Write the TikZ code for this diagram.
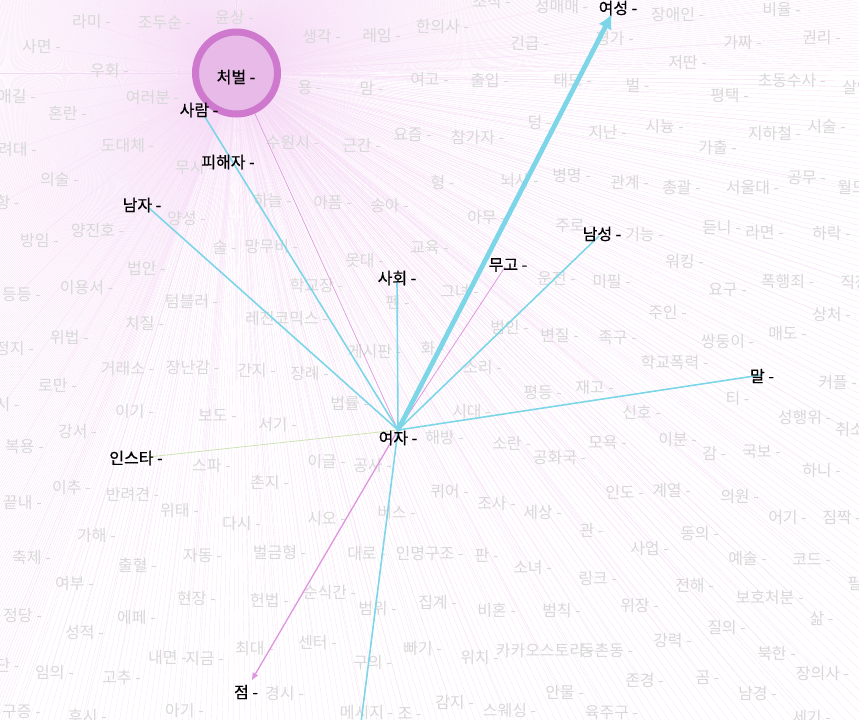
\documentclass[tikz,border=0pt]{standalone}
\usepackage{fontspec}
\setmainfont{Noto Sans CJK KR}
\newfontfamily\keyfont[FakeBold=0.6]{Noto Sans CJK KR}
\usetikzlibrary{arrows.meta,positioning}
\definecolor{hubfill}{RGB}{231,186,231}
\definecolor{hubring}{RGB}{206,121,206}
\definecolor{fanpink}{RGB}{245,216,245}
\definecolor{linkblue}{RGB}{124,214,232}
\definecolor{linkpink}{RGB}{222,150,222}
\definecolor{linkgreen}{RGB}{205,228,180}
\definecolor{wordgray}{RGB}{216,216,216}
\tikzset{>=latex,
  fanline/.style={fanpink,line width=0.14pt},
  bgword/.style={text=wordgray,font=\fontsize{12}{14}\selectfont,inner sep=0pt,xshift=3.4pt},
  keyword/.style={text=black,font=\keyfont\fontsize{12}{14}\selectfont,inner sep=0pt},
  bluelink/.style={linkblue,line width=1.2pt},
  pinklink/.style={linkpink,line width=0.6pt}}

\begin{document}
\begin{tikzpicture}[x=0.75pt,y=-0.75pt]
    \useasboundingbox (0,0) rectangle (859,719);
    \clip (0,0) rectangle (859,719);
    \coordinate (hub) at (236.5,73);
    \def\bgwords{87/22/라미, 160/23/조두순, 230/17/윤상, 37/47/사면, 105/70/우회, 12/97/애길,
      148/98/여러분, 63/113/혼란, 13/150/려대, 123/145/도대체, 190/168/무시, 55/180/의술,
      3/202/항, 182/218/양성, 93/230/양진호, 35/240/방임, 268/200/하늘, 317/37/생각,
      377/35/레임, 438/27/한의사, 487/2/조직, 557/7/성매매, 525/43/긴급, 305/88/용,
      367/88/맘, 425/80/여고, 485/80/출입, 568/80/태도, 535/122/덩, 288/143/수원시,
      357/145/근간, 408/135/요즘, 473/137/참가자, 438/182/형, 515/180/뇌사, 567/175/병명,
      328/202/아픔, 385/205/송아, 482/217/아무, 570/226/주로, 673/15/장애인, 777/10/비율,
      610/38/평가, 738/43/가짜, 817/38/권리, 683/63/저딴, 633/85/벌, 787/80/초동수사,
      857/87/살인, 725/95/평택, 603/132/지난, 660/127/시늉, 770/133/지하철, 822/127/시술,
      713/147/가출, 625/182/관계, 677/187/총괄, 748/188/서울대, 802/178/공무, 852/187/월드,
      640/234/기능, 717/227/듣니, 760/233/라면, 827/233/하락, 220/247/술, 267/247/망무비,
      142/268/법안, 17/295/등등, 82/288/이용서, 187/302/텀블러, 282/318/레진코믹스, 140/323/치질,
      65/337/위법, 10/348/정지, 123/368/거래소, 188/367/장난감, 252/370/간지, 305/373/장례,
      53/385/로만, 3/405/시, 130/412/이기, 213/415/보도, 273/425/서기, 73/432/강서,
      20/447/복용, 207/465/스파, 265/482/촌지, 425/248/교육, 360/260/못대, 312/285/학교장,
      393/302/펜, 455/292/그녀, 552/278/운전, 505/327/범인, 555/335/변질, 370/352/게시판,
      428/348/화, 478/368/소리, 538/392/평등, 345/403/법률, 467/412/시대, 440/437/해방,
      507/443/소란, 555/457/공화국, 322/462/이글, 368/465/공사, 680/262/워킹, 607/282/미필,
      723/290/요구, 783/282/폭행죄, 855/282/직장, 663/312/주인, 827/315/상처, 613/338/족구,
      723/342/쌍둥이, 783/333/매도, 670/362/학교폭력, 833/382/커플, 590/387/재고, 733/398/티,
      637/412/신호, 800/417/성행위, 850/430/취소, 603/443/모욕, 673/440/이분, 710/453/감,
      757/452/국보, 817/470/하니, 67/488/이추, 128/495/반려견, 18/502/끝내, 175/510/위태,
      237/523/다시, 92/535/가해, 27/557/축제, 133/565/출혈, 198/555/자동, 275/552/벌금형,
      70/583/여부, 192/598/현장, 265/600/헌법, 18/615/정당, 132/617/에페, 80/632/성적,
      163/657/내면, 200/658/지금, 250/648/최대, 3/665/단, 50/672/임의, 117/677/고추,
      280/693/경시, 17/712/구증, 83/716/후시, 180/710/아기, 445/492/퀴어, 492/503/조사,
      538/512/세상, 322/518/시오, 392/512/버스, 362/553/대로, 425/553/인명구조, 482/555/판,
      528/567/소녀, 325/592/순식간, 373/608/범위, 433/602/집계, 492/610/비혼, 557/610/범칙,
      313/642/센터, 418/648/빠기, 475/657/위치, 540/650/카카오스토리, 602/650/동촌동, 368/662/구의,
      362/712/메시지, 405/714/조, 450/702/감지, 505/710/스웨싱, 560/692/안물, 620/492/인도,
      667/490/계열, 735/497/의원, 783/517/어기, 837/517/짐짝, 587/530/관, 695/533/동의,
      645/548/사업, 743/558/예술, 807/560/코드, 593/578/링크, 690/585/전해, 765/597/보호처분,
      855/583/필, 635/605/위장, 817/618/삶, 722/627/질의, 668/640/강력, 772/653/북한,
      640/680/존경, 703/678/곰, 818/673/장의사, 753/693/남경, 607/713/육주구, 807/717/세기}
    \foreach \a in {0.25,0.75,...,359.75}
      \draw[fanline] (hub) -- ++(\a:1200);
    \foreach \a in {110,110.5,...,359.5}
      \draw[fanline] (hub) -- ++(\a:1200);
    \foreach \x/\y/\w [count=\i] in \bgwords {
      \coordinate (w\i) at (\x,\y);
      \draw[fanline] (hub) -- (w\i);
    }
    \foreach \x/\y/\w [count=\i] in \bgwords
      \node[bgword] (bg\i) at (w\i) {\w\ -};
    % keyword points
    \coordinate (yeoja) at (398,430);
    \coordinate (yeoseong) at (615,8);
    \coordinate (namseong) at (599,236);
    \coordinate (mugo) at (505,267);
    \coordinate (sahoe) at (397,281);
    \coordinate (mal) at (761,375);
    \coordinate (namja) at (149,208);
    \coordinate (saram) at (205,117);
    \coordinate (insta) at (148,457);
    \coordinate (jeom) at (246,690);
    \coordinate (below) at (355,770);
    \draw[linkpink,line width=0.5pt] (hub) -- (yeoja);
    \draw[linkgreen,line width=0.6pt] (insta) -- (yeoja);
    \draw[pinklink] (yeoja) -- (mugo);
    \draw[pinklink,line width=1pt,-{Latex[length=6pt,width=5pt]},shorten >=8pt] (yeoja) -- (jeom);
    \draw[bluelink] (yeoja) -- (namja);
    \draw[bluelink] (yeoja) -- (saram);
    \draw[bluelink] (yeoja) -- (sahoe);
    \draw[bluelink] (yeoja) -- (namseong);
    \draw[bluelink] (yeoja) -- (mal);
    \draw[bluelink] (yeoja) -- (below);
    \draw[linkblue,line width=3.6pt,-{Latex[length=11pt,width=11pt]},shorten >=5pt] (yeoja) -- (yeoseong);
    \node[circle,draw=hubring,fill=hubfill,line width=5.25pt,minimum size=61.5pt] (cheobeol) at (hub) {};
    \node[keyword] (cheobeol-l) at (236,77) {처벌 -};
    \node[keyword] (yeoja-l) at (398,438) {여자 -};
    \node[keyword] (yeoseong-l) at (618,8) {여성 -};
    \node[keyword] (namseong-l) at (602,234) {남성 -};
    \node[keyword] (mugo-l) at (508,265) {무고 -};
    \node[keyword] (sahoe-l) at (397,278) {사회 -};
    \node[keyword] (mal-l) at (762,376) {말 -};
    \node[keyword] (namja-l) at (142,205) {남자 -};
    \node[keyword] (saram-l) at (199,110) {사람 -};
    \node[keyword] (pihaeja-l) at (228,162) {피해자 -};
    \node[keyword] (insta-l) at (136,458) {인스타 -};
    \node[keyword] (jeom-l) at (246,692) {점 -};
  \end{tikzpicture}
\end{document}
